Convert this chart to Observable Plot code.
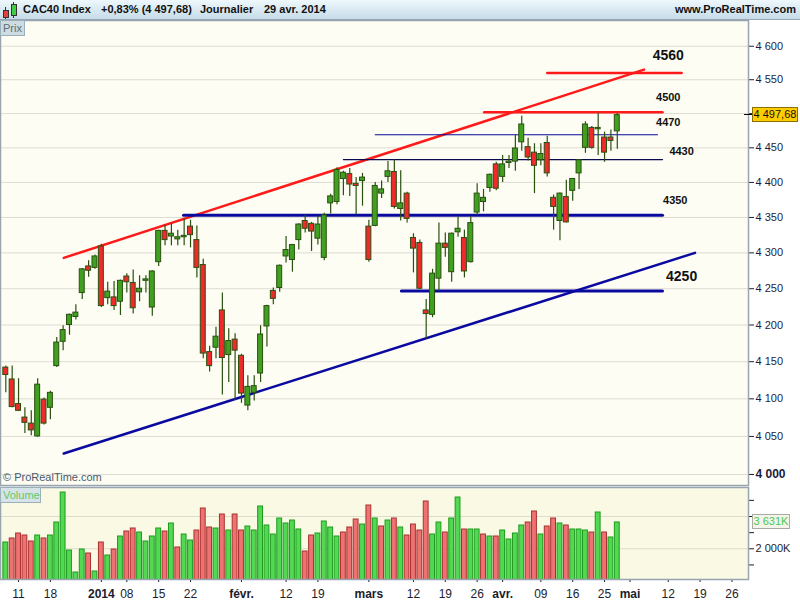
<!DOCTYPE html>
<html><head><meta charset="utf-8">
<script src="https://cdn.jsdelivr.net/npm/d3@7"></script>
<script src="https://cdn.jsdelivr.net/npm/@observablehq/plot@0.6"></script>
<style>
body{margin:0;background:#fff;}
#root{position:relative;width:800px;height:600px;overflow:hidden;font-family:"Liberation Sans",Arial,sans-serif;background:#fff;}
.abs{position:absolute;}
#hdr{left:0;top:0;width:800px;height:19px;background:linear-gradient(#eef8fc,#c6dce8);border-bottom:1px solid #98a8b2;}
.ht{position:absolute;top:3px;font-weight:bold;font-size:11px;color:#111;white-space:nowrap;}
</style></head><body><div id="root">
<div id="hdr" class="abs">
  <div class="abs" style="left:5px;top:7px;width:1px;height:12px;background:#333"></div>
  <div class="abs" style="left:3px;top:10px;width:4px;height:6px;background:#e84040;border:1px solid #333"></div>
  <div class="abs" style="left:13px;top:2px;width:1px;height:16px;background:#333"></div>
  <div class="abs" style="left:11px;top:4px;width:4px;height:10px;background:#44cc44;border:1px solid #333"></div>
  <span class="ht" style="left:23px">CAC40 Index</span>
  <span class="ht" style="left:101px">+0,83% (4 497,68)</span>
  <span class="ht" style="left:200px">Journalier</span>
  <span class="ht" style="left:264px">29 avr. 2014</span>
  <span class="ht" style="right:4px">www.ProRealTime.com</span>
</div>
<div id="price" class="abs" style="left:0;top:20px"></div>
<div id="vol" class="abs" style="left:0;top:487px"></div>
</div>
<script>
// ---- data ----
const open  = [4142,4126,4093,4075,4067,4050,4099,4088,4144,4177, 4200,4211,4244,4281,4279,4309,4237,4238,4232,4267,
 4258,4245,4261,4224,4287,4331,4323,4319,4322,4337, 4318,4283,4163,4169,4220,4159,4180,4158,4091,4108,
 4134,4198,4247,4251,4295,4290,4318,4345,4341,4320, 4293,4370,4372,4405,4412,4398,4402,4337,4338,4384,
 4408,4415,4362,4384,4321,4314,4220,4214,4264,4313, 4273,4329,4321,4287,4357,4372,4392,4426,4408,4428,
 4430,4458,4451,4443,4432,4457,4378,4345,4379,4388, 4413,4450,4479,4477,4465,4465,4474];
const high  = [4144,4144,4127,4088,4084,4127,4101,4110,4183,4199, 4215,4228,4278,4289,4297,4312,4259,4260,4262,4271,
 4276,4268,4268,4275,4332,4339,4341,4332,4348,4346, 4338,4291,4171,4197,4244,4195,4188,4160,4131,4131,
 4199,4227,4251,4283,4323,4312,4341,4353,4343,4352, 4356,4383,4421,4416,4420,4407,4413,4346,4400,4402,
 4430,4432,4417,4386,4327,4318,4235,4277,4342,4328, 4328,4351,4332,4351,4398,4390,4412,4429,4439,4439,
 4468,4496,4464,4456,4456,4467,4382,4385,4403,4405, 4432,4488,4481,4500,4473,4476,4500];
const low   = [4108,4088,4083,4054,4051,4049,4065,4072,4142,4165, 4186,4207,4235,4266,4277,4224,4228,4220,4213,4244,
 4215,4232,4244,4212,4281,4310,4310,4310,4310,4307, 4265,4154,4136,4154,4105,4122,4098,4094,4084,4097,
 4122,4170,4228,4245,4286,4273,4304,4328,4302,4311, 4289,4355,4368,4381,4380,4354,4366,4287,4337,4377,
 4400,4362,4345,4342,4272,4249,4181,4210,4247,4294, 4259,4322,4265,4286,4353,4358,4386,4388,4400,4420,
 4416,4445,4431,4384,4424,4408,4332,4317,4342,4373, 4390,4442,4448,4439,4429,4445,4448];
const close = [4132,4089,4084,4068,4058,4119,4067,4108,4176,4193, 4214,4217,4277,4275,4295,4226,4246,4226,4261,4259,
 4223,4250,4263,4274,4331,4318,4327,4322,4324,4325, 4279,4161,4144,4184,4155,4178,4165,4107,4116,4117,
 4187,4226,4236,4282,4304,4311,4340,4334,4330,4340, 4353,4380,4418,4414,4397,4395,4407,4290,4395,4390,
 4416,4365,4370,4348,4306,4250,4215,4271,4313,4307, 4327,4334,4274,4342,4384,4378,4411,4391,4426,4430,
 4449,4484,4436,4424,4441,4413,4365,4384,4343,4405, 4432,4484,4450,4479,4443,4460,4497.68];
// volume in thousands
const volume = [2390,2638,2947,2823,2452,2823,2638,2823,3628,5486, 1895,532,1957,1709,594,2390,1585,1957,2762,3071,
 3257,3009,2452,2762,3257,3071,3567,2080,2885,2514, 3133,4495,3319,3257,4124,3133,4124,3133,3381,3133,
 4619,3443,2885,3876,3567,3752,3195,1833,2823,2947, 3690,3319,2762,3009,3319,3814,3504,4681,3876,3381,
 3752,3876,3319,2823,3504,3133,4929,2885,3628,3009, 3876,5176,3195,3195,3195,2885,2762,2762,3133,2576,
 2947,3443,3628,4310,2885,3381,3876,3567,3443,3195, 3195,3133,3009,4248,3009,2700,3631];
const volDir = ("grrrrgrggg"+"gggrgrgrgr"+"rggggrgrgg"+"rrrgrgrrgg"+"gggggggrrg"+
                "gggrrrgrgr"+"grgrrrrggr"+"ggrggrgrgg"+"ggrrgrrgrg"+"ggrgrgg").split("");
// date ticks (trading-day index -> label)
const dayTickIdx   = [2,7,19,24,29,44,49,64,69,74,84,89,94,104,109,114];
const dayTickLabel = ["11","18","08","15","22","12","19","12","19","26","09","16","25","12","19","26"];
const monthTickIdx   = [15,37,57,78,98];
const monthTickLabel = ["2014","févr.","mars","avr.","mai"];
const priceTicks = [4000,4050,4100,4150,4200,4250,4300,4350,4400,4450,4500,4550,4600];
const hiddenPriceLabels = [4000,4500]; // 4000 drawn bold; 4500 covered by the last-price box
const volTicks = [1000,2000,3000,4000,5000];
const volLabelled = [2000];
// drawn lines (trading-day index, price)
const upperTrend = [{i:9.1,p:4293},{i:100.2,p:4565}];
const lowerTrend = [{i:9.1,p:4027.5},{i:108.2,p:4300}];
const redLevels  = [{p:4560,from:85.0,to:106.1},{p:4502,from:75.1,to:103.1}];
const thinLevels = [{p:4469,from:58.0,to:102.3,c:"#0a0a9a"},{p:4433,from:53.0,to:103.1,c:"#0a0a50"}];
const blueLevels = [{p:4353,from:27.9,to:103.1},{p:4247,from:62.1,to:103.1}];
const bigLabels   = [{t:"4560",i:104.0,p:4586},{t:"4250",i:106.1,p:4267}];
const smallLabels = [{t:"4500",i:104.0,p:4524},{t:"4470",i:104.0,p:4487},{t:"4430",i:106.1,p:4444},{t:"4350",i:105.1,p:4374}];

// ---- build ----
const N = close.length;
const candles = d3.range(N).map(i => ({i, o:open[i], h:high[i], l:low[i], c:close[i], v:volume[i], vd:volDir[i]}));
const xDomain = [-0.832, 116.6];
const FONT = '"Liberation Sans", Arial, sans-serif';
const fmtP = d => `${Math.floor(d/1000)} ${String(Math.round(d%1000)).padStart(3,"0")}`;
const fmtK = d => `${Math.floor(d/1000)} ${String(d%1000).padStart(3,"0")}K`;
const seg = arr => arr.flatMap((d,k) => [{k, i:d.from, p:d.p, c:d.c},{k, i:d.to, p:d.p, c:d.c}]);

const price = Plot.plot({
  width: 800, height: 465, marginLeft: 0, marginRight: 52, marginTop: 0, marginBottom: 0,
  x: {type:"linear", domain:xDomain, axis:null, label:null},
  y: {type:"log", domain:[3985.66, 4638.8], label:null},
  color: {type:"identity"},
  style: {background:"#fff", fontFamily:FONT, color:"#1c1c3c", overflow:"visible"},
  marks: [
    Plot.frame({fill:"#fdfdf3", stroke:null}),
    Plot.gridY(priceTicks, {stroke:"#dedcd2", strokeOpacity:1}),
    Plot.line(upperTrend, {x:"i", y:"p", stroke:"#ff1a1a", strokeWidth:2.5}),
    Plot.line(lowerTrend, {x:"i", y:"p", stroke:"#0a0aa0", strokeWidth:2.5}),
    Plot.line(seg(redLevels), {x:"i", y:"p", z:"k", stroke:"#ff1a1a", strokeWidth:2.5}),
    Plot.line(seg(blueLevels), {x:"i", y:"p", z:"k", stroke:"#0a0aa0", strokeWidth:3}),
    Plot.line(seg(thinLevels), {x:"i", y:"p", z:"k", stroke:"c", strokeWidth:1.2}),
    Plot.ruleX(candles, {x:"i", y1:"l", y2:"h", stroke:"#2a5010", strokeWidth:1.2}),
    Plot.rect(candles, {x1:d=>d.i-0.39, x2:d=>d.i+0.39, y1:d=>Math.min(d.o,d.c), y2:d=>Math.max(d.o,d.c),
      fill:d=>d.c>=d.o?"#40a020":"#ee2a2a", stroke:"#2a5010", strokeWidth:1}),
    Plot.text(bigLabels, {x:"i", y:"p", text:"t", fontSize:14, fontWeight:"bold", fill:"#111"}),
    Plot.text(smallLabels, {x:"i", y:"p", text:"t", fontSize:11, fontWeight:"bold", fill:"#111"}),
    Plot.axisY(priceTicks, {anchor:"right", tickSize:5, tickPadding:2, tickFormat:d=>hiddenPriceLabels.includes(d)?"":fmtP(d), fontSize:11, label:null}),
    Plot.axisY([4000], {anchor:"right", tickSize:5, tickPadding:2, tickFormat:fmtP, fontSize:12, fontWeight:"bold", label:null}),
    Plot.frame({stroke:"#98a4ae", strokeWidth:1.5})
  ]
});
document.getElementById("price").appendChild(price);

const vol = Plot.plot({
  width: 800, height: 113, marginLeft: 0, marginRight: 52, marginTop: 0, marginBottom: 21,
  x: {type:"linear", domain:xDomain, label:null},
  y: {domain:[99, 5796], label:null},
  color: {type:"identity"},
  style: {background:"#fff", fontFamily:FONT, color:"#1c1c2c", overflow:"visible"},
  marks: [
    Plot.frame({fill:"#f9f9e4", stroke:null}),
    Plot.gridY([2000,4000], {stroke:"#dcdccc", strokeOpacity:1}),
    Plot.rectY(candles, {x1:d=>d.i-0.38, x2:d=>d.i+0.38, y1:0, y2:"v", clip:true,
      fill:d=>d.vd==="g"?"#52d852":"#ee7272", stroke:d=>d.vd==="g"?"#1f9a1f":"#a83030", strokeWidth:1}),
    Plot.axisY(volTicks, {anchor:"right", tickSize:5, tickPadding:2, tickFormat:d=>volLabelled.includes(d)?fmtK(d):"", fontSize:11, label:null}),
    Plot.axisX(dayTickIdx, {anchor:"bottom", tickSize:3, tickPadding:7, fontSize:12, tickFormat:d=>dayTickLabel[dayTickIdx.indexOf(d)], label:null}),
    Plot.axisX(monthTickIdx, {anchor:"bottom", tickSize:3, tickPadding:7, fontSize:12, fontWeight:"bold", tickFormat:d=>monthTickLabel[monthTickIdx.indexOf(d)], label:null}),
    Plot.frame({stroke:"#98a4ae", strokeWidth:1.5})
  ]
});
document.getElementById("vol").appendChild(vol);

// overlays
const root = document.getElementById("root");
function box(html, css){ const d=document.createElement("div"); d.className="abs"; d.style.cssText=css; d.innerHTML=html; root.appendChild(d); return d; }
box("Prix","left:0;top:20px;background:#cddbe3;border:1px solid #9cb0ba;font-size:11px;color:#5b7272;padding-left:2px;line-height:14px;box-sizing:border-box;width:25px;height:16px;");
box("Volume","left:0;top:487px;width:41px;height:16px;background:#d6e4ea;border:1px solid #9cb0ba;font-size:11px;color:#62c862;padding-left:2px;line-height:14px;box-sizing:border-box;");
box("© ProRealTime.com","left:3px;top:471px;font-size:11px;color:#4a5a6c;");
const lastClose = close[N-1];
const yP = 20 + price.scale("y").apply(lastClose);
box("","left:744px;top:"+(yP-0.5)+"px;width:8px;height:1px;background:#000;");
box("4 497,68","left:752px;top:"+(yP-8)+"px;width:46px;height:15px;background:#ffcc00;border:1px solid #8a7000;box-sizing:border-box;font-size:11px;color:#111;line-height:13px;text-align:center;");
const yV = 487 + vol.scale("y").apply(volume[N-1]);
box("3 631K","left:752px;top:"+(yV-8)+"px;width:38px;height:15px;background:#f4f4ea;border:1px solid #a8aca4;box-sizing:border-box;font-size:11px;color:#4cc84c;line-height:13px;text-align:center;");
</script></body></html>
